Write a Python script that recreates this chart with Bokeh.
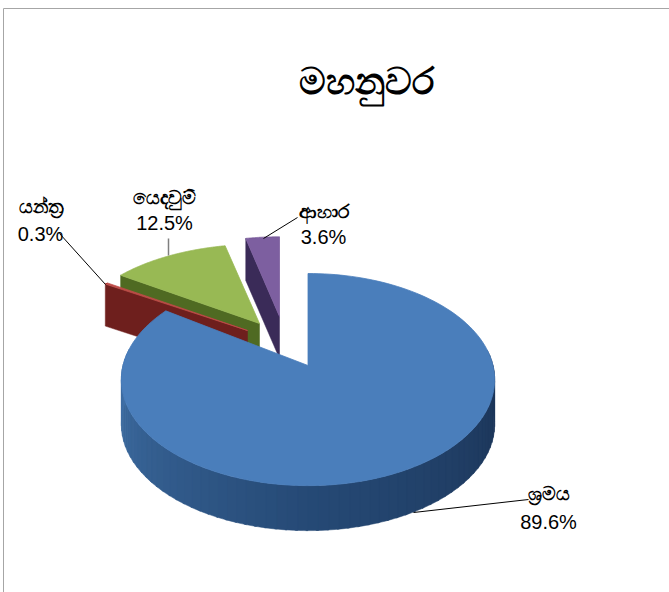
import numpy as np
from bokeh.plotting import figure
from bokeh.models import Range1d
from bokeh.core.properties import value
from bokeh.embed import file_html
from bokeh.resources import INLINE

title_text = "මහනුවර"
categories = ["ශ්‍රමය", "යන්ත්‍ර", "යෙදවුම්", "ආහාර"]
shares = [89.6, 0.3, 12.5, 3.6]
share_labels = ["89.6%", "0.3%", "12.5%", "3.6%"]

FONT = "Noto Sans"
NUM_FONT = "Liberation Sans"
DEPTH = 45
P_R, P_Q, P_K = 185.0, 104.2, 0.1325
CX, CY = 307.5, 365.0

# per-slice display: apex (page px), radius scale, vertical squash, colours
apex = [(CX, CY), (247, 330), (259, 323), (279, 316)]
scale = [1.0, 1.0, 0.99, 0.97]
squash = [1.0, 0.85, 0.87, 0.89]
top_col = ["#4a7ebb", "#be4b48", "#98b954", "#7d5fa0"]
side_col = ["#24446d", "#6e1f1d", "#4f6a22", "#3a2b58"]

p = figure(width=669, height=592, output_backend="svg", toolbar_location=None,
           x_range=Range1d(0, 669), y_range=Range1d(592, 0), min_border=0,
           outline_line_color=None)
p.axis.visible = False
p.grid.visible = False


def project(theta, r, q, ax, ay):
    """Perspective projection of an angle (clockwise from top) on the disc."""
    u, v = r * np.sin(theta), r * np.cos(theta)
    s = 1.0 / (1.0 + P_K * v)
    return ax + P_R * u * s, ay - P_Q * q * v * s


fr = np.array(shares) / sum(shares)
edges = np.concatenate([[0], np.cumsum(fr)]) * 2 * np.pi


def draw_slice(i):
    a0, a1 = edges[i], edges[i + 1]
    ax, ay = apex[i]
    r, q = scale[i], squash[i]
    th = np.linspace(a0, a1, 160)
    x, y = project(th, r, q, ax, ay)
    if i == 0:
        # curved outer wall, broken into shaded strips
        n = 70
        ts = np.linspace(np.pi / 2 - 0.15, 3 * np.pi / 2 + 0.15, n + 1)
        xs, ys, cols = [], [], []
        c_right, c_mid, c_left = np.array([27, 50, 84]), np.array([38, 74, 118]), np.array([66, 114, 168])
        for k in range(n):
            seg = np.linspace(ts[k], ts[k + 1] + 0.01, 4)
            sx, sy = project(seg, r, q, ax, ay)
            xs.append(list(sx) + list(sx[::-1]))
            ys.append(list(sy) + list((sy + DEPTH)[::-1]))
            t = k / (n - 1)
            c = c_right + (c_mid - c_right) * (t / 0.5) if t < 0.5 else c_mid + (c_left - c_mid) * ((t - 0.5) / 0.5)
            cols.append("#%02x%02x%02x" % tuple(int(v) for v in c))
        p.patches(xs, ys, fill_color=cols, line_color=cols, line_width=0.5)
    else:
        # flat wall below the radial edge that faces the viewer
        ex, ey = project(np.array([a0]), r, q, ax, ay)
        p.patch([ex[0], ax, ax, ex[0]], [ey[0], ay, ay + DEPTH - 3, ey[0] + DEPTH - 3],
                fill_color=side_col[i], line_color=side_col[i], line_width=0.5)
    p.patch([ax] + list(x), [ay] + list(y), fill_color=top_col[i], line_color=top_col[i], line_width=0.8)


for i in [3, 2, 1, 0]:
    draw_slice(i)

# frame of the original picture
p.line([3, 669], [8, 8], line_color="#a6a6a6", line_width=1)
p.line([3, 3], [8, 592], line_color="#a6a6a6", line_width=1)

# leader lines
p.line([528, 413], [499, 512], line_color="#000000", line_width=1)
p.line([59, 105], [233, 284], line_color="#000000", line_width=1)
p.line([168, 168], [238, 255], line_color="#7f7f7f", line_width=1.5)
p.line([297, 263], [217, 238], line_color="#000000", line_width=1)

p.text([366], [79], text=[title_text], text_font=value(FONT), text_font_size="37px",
       text_font_style="bold", text_align="center", text_baseline="middle", text_color="#000000")

lab_x = [548, 40, 164, 323]
lab_y1 = [492, 205, 196, 210]
lab_y2 = [521, 233, 222, 236]
p.text(lab_x, lab_y1, text=categories, text_font=value(FONT), text_font_size="19px",
       text_font_style="bold", text_align="center", text_baseline="middle", text_color="#000000")
p.text(lab_x, lab_y2, text=share_labels, text_font=value(NUM_FONT), text_font_size="20px",
       text_align="center", text_baseline="middle", text_color="#000000")

open("out.html", "w").write(file_html(p, INLINE))
